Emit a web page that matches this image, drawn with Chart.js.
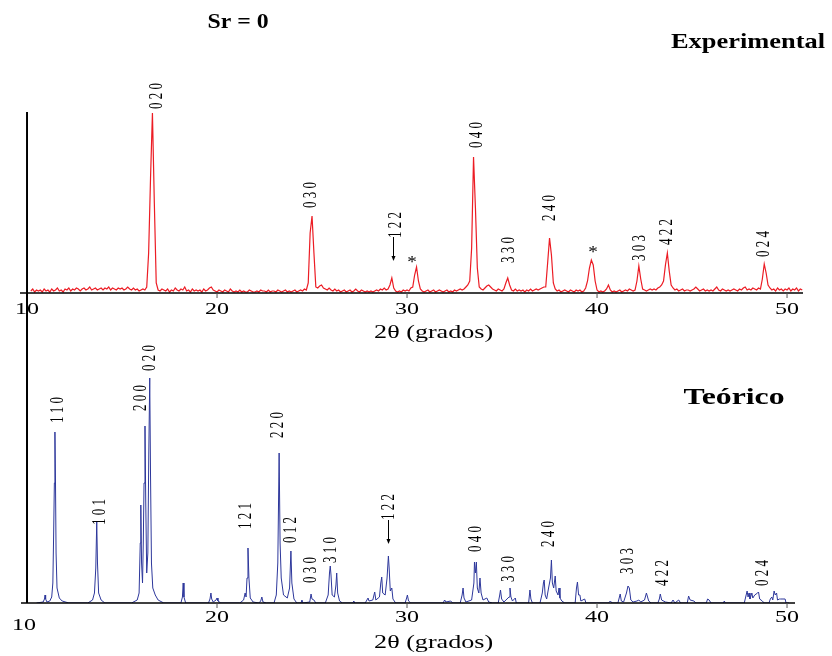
<!DOCTYPE html>
<html>
<head>
<meta charset="utf-8">
<script src="https://cdn.jsdelivr.net/npm/chart.js@4.4.0/dist/chart.umd.min.js"></script>
<style>
  body { margin: 0; background: #fff; }
  #wrap { position: relative; width: 832px; height: 656px; }
  #wrap canvas { position: absolute; left: 0; top: 0; }
</style>
</head>
<body>
<div id="wrap">
  <canvas id="expChart" width="832" height="656"></canvas>
  <canvas id="theoChart" width="832" height="656"></canvas>
</div>
<script>
// experimental pattern, one value every 0.1 deg starting at 10.2
const expStart = 10.2;
const expStep = 0.1;
const expCounts = [
  2, 4, 1, 3, 2, 3, 1, 4,            // 10.2 - 10.9
  2, 3, 1, 4, 2, 3, 5, 2, 3, 1,      // 11
  4, 3, 5, 2, 4, 3, 5, 4, 2, 4,      // 12
  5, 3, 4, 6, 3, 4, 5, 3, 4, 5,      // 13
  3, 5, 4, 6, 3, 5, 4, 3, 5, 4,      // 14
  5, 3, 4, 6, 4, 3, 5, 3, 4, 2,      // 15
  3, 4, 3, 6, 40, 115, 180, 90, 10, 3, // 16
  2, 4, 3, 2, 4, 1, 3, 2, 5, 3,      // 17
  2, 4, 3, 6, 2, 3, 1, 4, 2, 3,      // 18
  2, 3, 1, 4, 2, 3, 5, 6, 3, 2,      // 19
  1, 3, 2, 1, 3, 2, 1, 4, 2, 1,      // 20
  2, 1, 3, 1, 2, 1, 1, 3, 2, 1,      // 21
  1, 2, 1, 3, 2, 2, 1, 3, 1, 2,      // 22
  2, 1, 3, 2, 1, 2, 3, 1, 2, 1,      // 23
  2, 3, 1, 2, 3, 2, 4, 3, 10, 60,    // 24
  77, 40, 6, 5, 7, 8, 5, 4, 3, 5,    // 25
  3, 2, 4, 2, 3, 1, 2, 3, 1, 2,      // 26
  3, 1, 2, 4, 2, 1, 3, 2, 1, 2,      // 27
  1, 2, 1, 2, 3, 2, 4, 3, 5, 3,      // 28
  4, 8, 15, 5, 2, 1, 2, 1, 3, 2,     // 29
  3, 2, 5, 6, 18, 26, 12, 4, 2, 1,   // 30
  2, 3, 1, 2, 3, 1, 2, 3, 2, 1,      // 31
  2, 3, 1, 2, 1, 3, 2, 3, 4, 3,      // 32
  4, 6, 8, 12, 45, 136, 85, 25, 6, 4, // 33
  3, 5, 7, 8, 6, 4, 3, 2, 4, 3,      // 34
  2, 4, 10, 15, 8, 3, 2, 4, 2, 3,    // 35
  2, 3, 1, 3, 2, 4, 2, 3, 4, 3,      // 36
  4, 5, 6, 6, 30, 55, 38, 10, 4, 2,  // 37
  3, 1, 2, 3, 2, 1, 3, 2, 1, 3,      // 38
  2, 3, 1, 2, 5, 12, 25, 33, 28, 12, // 39
  3, 1, 2, 1, 2, 4, 8, 3, 1, 2,      // 40
  1, 2, 3, 1, 2, 3, 2, 4, 3, 2,      // 41
  3, 12, 27, 14, 4, 3, 2, 3, 4, 3,   // 42
  4, 3, 5, 6, 8, 12, 28, 40, 22, 8,  // 43
  5, 3, 4, 2, 3, 4, 2, 3, 3, 2,      // 44
  3, 4, 6, 4, 2, 3, 4, 2, 3, 2,      // 45
  3, 2, 4, 6, 3, 2, 4, 3, 2, 3,      // 46
  2, 3, 4, 3, 2, 4, 3, 5, 6, 3,      // 47
  4, 3, 5, 4, 3, 5, 4, 14, 29, 20,   // 48
  8, 5, 3, 4, 2, 5, 3, 4, 2, 4,      // 49
  3, 5, 2, 4, 3, 5, 2, 4, 3          // 50.0 - 50.8
];

// calculated pattern as [2theta, intensity]
const theoPoints = [
  [10.5, 0], [10.85, 1], [10.92, 4], [10.95, 8], [10.98, 4], [11.05, 1], [11.2, 2], [11.3, 6],
  [11.36, 20], [11.4, 66], [11.44, 120], [11.47, 171], [11.5, 120], [11.53, 50], [11.58, 15],
  [11.7, 5], [11.85, 2], [12.2, 0],
  [13.2, 0], [13.45, 3], [13.55, 10], [13.62, 35], [13.67, 81], [13.71, 40], [13.77, 10], [13.9, 3], [14.1, 0],
  [15.5, 0], [15.8, 3], [15.9, 10], [15.96, 60], [15.99, 98], [16.03, 40], [16.08, 20], [16.12, 60],
  [16.16, 120], [16.21, 177], [16.25, 100], [16.3, 30], [16.36, 50], [16.41, 150], [16.46, 225],
  [16.5, 130], [16.55, 40], [16.62, 15], [16.75, 8], [16.9, 3], [17.2, 0],
  [18.1, 0], [18.18, 6], [18.22, 20], [18.26, 6], [18.35, 0],
  [19.55, 0], [19.63, 4], [19.68, 10], [19.72, 4], [19.8, 1], [19.95, 3], [20.0, 5], [20.05, 2], [20.2, 0],
  [21.2, 0], [21.4, 3], [21.48, 10], [21.53, 6], [21.58, 25], [21.63, 55], [21.68, 25], [21.75, 5],
  [21.9, 1], [22.2, 0], [22.3, 2], [22.36, 6], [22.42, 1], [22.6, 0],
  [23.0, 0], [23.12, 8], [23.2, 40], [23.27, 150], [23.32, 60], [23.38, 25], [23.5, 8], [23.7, 5],
  [23.82, 15], [23.89, 52], [23.94, 20], [24.05, 4], [24.2, 0],
  [24.42, 0], [24.47, 3], [24.52, 0], [24.88, 1], [24.95, 9], [25.0, 4], [25.1, 3], [25.2, 0],
  [25.7, 0], [25.85, 8], [25.92, 30], [25.96, 37], [26.0, 28], [26.06, 8], [26.18, 6], [26.26, 18],
  [26.3, 30], [26.35, 10], [26.45, 2], [26.6, 0],
  [27.15, 0], [27.2, 2], [27.25, 0],
  [27.8, 0], [27.95, 5], [28.0, 2], [28.2, 3], [28.3, 11], [28.36, 3], [28.55, 6], [28.62, 20],
  [28.67, 26], [28.72, 10], [28.85, 8], [28.95, 25], [29.02, 47], [29.06, 35], [29.12, 12],
  [29.2, 15], [29.26, 4], [29.4, 0],
  [29.9, 0], [29.98, 5], [30.02, 8], [30.08, 2], [30.2, 0],
  [31.9, 0], [31.98, 3], [32.05, 1], [32.3, 2], [32.4, 0],
  [32.8, 0], [32.9, 8], [32.95, 15], [33.0, 5], [33.1, 1], [33.4, 3], [33.52, 20], [33.55, 41],
  [33.6, 30], [33.65, 41], [33.7, 15], [33.78, 10], [33.84, 25], [33.9, 10], [34.0, 3], [34.2, 5],
  [34.3, 1], [34.5, 0],
  [34.8, 0], [34.88, 8], [34.92, 13], [34.98, 4], [35.1, 1], [35.37, 6], [35.42, 15], [35.47, 6],
  [35.55, 2], [35.7, 5], [35.75, 0],
  [36.4, 0], [36.47, 13], [36.52, 4], [36.6, 0],
  [37.0, 0], [37.12, 10], [37.18, 20], [37.22, 23], [37.27, 8], [37.35, 4], [37.45, 15], [37.55, 25],
  [37.6, 43], [37.65, 20], [37.72, 15], [37.8, 27], [37.85, 12], [37.95, 8], [38.0, 15], [38.05, 5],
  [38.15, 2], [38.3, 0],
  [38.85, 0], [38.92, 15], [38.97, 21], [39.03, 8], [39.1, 8], [39.15, 2], [39.35, 4], [39.42, 0],
  [40.6, 0], [40.7, 2], [40.8, 0],
  [41.1, 0], [41.18, 6], [41.22, 9], [41.28, 2], [41.4, 1], [41.55, 10], [41.63, 17], [41.7, 15],
  [41.78, 3], [41.9, 1], [42.1, 2], [42.2, 3], [42.3, 1], [42.5, 3], [42.6, 10], [42.66, 6],
  [42.72, 2], [42.85, 0],
  [43.2, 0], [43.28, 4], [43.33, 9], [43.4, 3], [43.6, 1], [43.9, 0], [44.0, 3], [44.1, 0],
  [44.3, 3], [44.4, 0],
  [44.75, 0], [44.82, 7], [44.9, 3], [45.1, 2], [45.2, 0],
  [45.75, 0], [45.82, 4], [45.9, 3], [46.0, 0],
  [46.65, 0], [46.7, 2], [46.75, 0],
  [47.75, 0], [47.85, 8], [47.9, 12], [47.95, 6], [48.0, 10], [48.05, 4], [48.15, 10], [48.2, 5],
  [48.3, 8], [48.45, 10], [48.5, 11], [48.56, 4], [48.7, 2], [48.8, 0],
  [49.05, 0], [49.12, 4], [49.2, 6], [49.25, 3], [49.32, 12], [49.38, 8], [49.45, 10], [49.5, 3],
  [49.6, 4], [49.65, 4], [49.9, 4], [49.95, 0], [50.1, 0]
];

const tickValues = [10, 20, 30, 40, 50];

// reflection labels: [text, 2theta, height of label centre]
const expHkl = [
  ['0 2 0', 16.84, 197], ['0 3 0', 24.95, 98], ['1 2 2', 29.42, 68], ['0 4 0', 33.68, 158],
  ['3 3 0', 35.37, 43], ['2 4 0', 37.53, 85], ['3 0 3', 42.26, 45], ['4 2 2', 43.68, 61],
  ['0 2 4', 48.79, 49]
];
const expStars = [[30.26, 34.5], [39.79, 44.5]];
const theoHkl = [
  ['1 1 0', 11.63, 193], ['1 0 1', 13.84, 91], ['2 0 0', 16.0, 205], ['0 2 0', 16.47, 245],
  ['1 2 1', 21.53, 87], ['2 2 0', 23.21, 178], ['0 1 2', 23.89, 73], ['0 3 0', 24.95, 33],
  ['3 1 0', 26.0, 53], ['1 2 2', 29.05, 96], ['0 4 0', 33.63, 64], ['3 3 0', 35.37, 34],
  ['2 4 0', 37.47, 69], ['3 0 3', 41.63, 42], ['4 2 2', 43.47, 30], ['0 2 4', 48.74, 30]
];

const serif = '"Liberation Serif", "Times New Roman", serif';

function stretchedText(ctx, text, x, y, font, sx, rotate, baseline) {
  ctx.save();
  ctx.font = font;
  ctx.fillStyle = '#000';
  ctx.translate(x, y);
  ctx.scale(sx, 1);
  if (rotate) ctx.rotate(-Math.PI / 2);
  ctx.textAlign = 'center';
  ctx.textBaseline = baseline || 'alphabetic';
  ctx.fillText(text, 0, 0);
  ctx.restore();
}

function decor(cfg) {
  return {
    id: 'decor',
    afterDatasetsDraw(chart) {
      const { ctx, chartArea: a, scales: { x, y } } = chart;
      ctx.save();
      // axes
      ctx.strokeStyle = '#000';
      ctx.lineWidth = 1.5;
      ctx.beginPath();
      ctx.moveTo(a.left, a.bottom);
      ctx.lineTo(a.right, a.bottom);
      ctx.stroke();
      const yAxisX = x.getPixelForValue(10);
      ctx.lineWidth = 2;
      ctx.beginPath();
      ctx.moveTo(yAxisX, a.top);
      ctx.lineTo(yAxisX, a.bottom);
      ctx.stroke();

      ctx.strokeStyle = '#555';
      ctx.lineWidth = 1;
      tickValues.forEach((v, i) => {
        const px = x.getPixelForValue(v);
        if (i > 0) {
          ctx.beginPath();
          ctx.moveTo(px, a.bottom);
          ctx.lineTo(px, a.bottom + 5);
          ctx.stroke();
        }
        const drop = i === 0 ? cfg.firstTickDrop : 0;
        stretchedText(ctx, String(v), px - (i === 0 ? cfg.firstTickShift : 0), a.bottom + cfg.tickGap + drop, '16px ' + serif, 1.5);
      });
      stretchedText(ctx, '2θ (grados)', x.getPixelForValue(31.4), a.bottom + cfg.titleGap, '18px ' + serif, 1.45);

      cfg.hkl.forEach(([t, v, h]) => {
        stretchedText(ctx, t, x.getPixelForValue(v), y.getPixelForValue(h), '13px ' + serif, 1.4, true, 'middle');
      });

      // arrows
      ctx.strokeStyle = '#000';
      ctx.fillStyle = '#000';
      ctx.lineWidth = 1;
      cfg.arrows.forEach(([v, h0, h1]) => {
        const px = Math.round(x.getPixelForValue(v)) + 0.5;
        const p0 = y.getPixelForValue(h0);
        const p1 = y.getPixelForValue(h1);
        ctx.beginPath();
        ctx.moveTo(px, p0);
        ctx.lineTo(px, p1 - 4);
        ctx.stroke();
        ctx.beginPath();
        ctx.moveTo(px - 2, p1 - 5);
        ctx.lineTo(px + 2, p1 - 5);
        ctx.lineTo(px, p1);
        ctx.closePath();
        ctx.fill();
      });

      cfg.stars.forEach(([v, h]) => {
        stretchedText(ctx, '*', x.getPixelForValue(v), y.getPixelForValue(h) + 8, '16px ' + serif, 1.2);
      });

      cfg.titles.forEach(([t, px, py, size, sx]) => {
        stretchedText(ctx, t, px, py, 'bold ' + size + 'px ' + serif, sx);
      });
      ctx.restore();
    }
  };
}

function baseOptions(xMin, xMax, yMax, pad) {
  return {
    responsive: false,
    animation: false,
    events: [],
    layout: { padding: pad },
    plugins: { legend: { display: false }, tooltip: { enabled: false } },
    elements: { point: { radius: 0 }, line: { tension: 0 } },
    scales: {
      x: { type: 'linear', min: xMin, max: xMax, display: false },
      y: { min: 0, max: yMax, display: false }
    }
  };
}

const expData = expCounts.map((c, i) => ({ x: +(expStart + i * expStep).toFixed(2), y: c }));
const theoData = theoPoints.map(([a, c]) => ({ x: a, y: c }));

new Chart(document.getElementById('expChart'), {
  type: 'line',
  data: {
    datasets: [{
      data: expData,
      borderColor: 'rgb(236, 28, 36)',
      borderWidth: 1.2,
      fill: false
    }]
  },
  options: baseOptions(9.63, 50.84, 181, { left: 20, right: 29, top: 112, bottom: 363 }),
  plugins: [decor({
    tickGap: 21, firstTickDrop: 0, firstTickShift: 0, titleGap: 45,
    hkl: expHkl,
    arrows: [[29.26, 56, 32]],
    stars: expStars,
    titles: [['Sr = 0', 238, 28, 22, 1.08], ['Experimental', 748, 48, 22, 1.2]]
  })]
});

new Chart(document.getElementById('theoChart'), {
  type: 'line',
  data: {
    datasets: [{
      data: theoData,
      borderColor: 'rgb(45, 55, 155)',
      borderWidth: 1,
      fill: false
    }]
  },
  options: baseOptions(9.684, 50.42, 310, { left: 21, right: 37, top: 293, bottom: 53 }),
  plugins: [decor({
    tickGap: 19, firstTickDrop: 8, firstTickShift: 3, titleGap: 45,
    hkl: theoHkl,
    arrows: [[29.0, 83, 59]],
    stars: [],
    titles: [['Teórico', 734, 404, 23, 1.38]]
  })]
});
</script>
</body>
</html>
